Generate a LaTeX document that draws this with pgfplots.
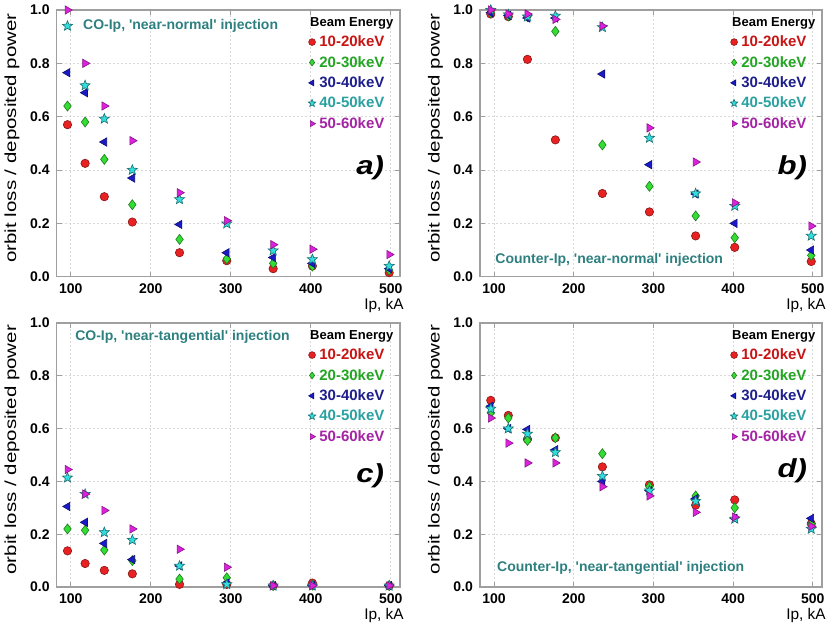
\documentclass[border=0pt]{standalone}
\usepackage{fontspec}
\setmainfont{Liberation Sans}
\usepackage{graphicx}
\usepackage{pgfplots}
\pgfplotsset{compat=1.18}

\definecolor{cred}{HTML}{E82222}
\definecolor{cgreen}{HTML}{33DD33}
\definecolor{cblue}{HTML}{1A1AC8}
\definecolor{ccyan}{HTML}{33DDDD}
\definecolor{cmag}{HTML}{DD22DD}
\definecolor{tred}{HTML}{C81414}
\definecolor{tgreen}{HTML}{22A522}
\definecolor{tblue}{HTML}{1E1E8C}
\definecolor{tcyan}{HTML}{2AA0A0}
\definecolor{tmag}{HTML}{A424A4}
\definecolor{tteal}{HTML}{2E8080}

\pgfdeclareplotmark{fstar}{%
  \pgfpathmoveto{\pgfpointpolar{90}{1.15\pgfplotmarksize}}%
  \pgfpathlineto{\pgfpointpolar{126}{0.5\pgfplotmarksize}}%
  \pgfpathlineto{\pgfpointpolar{162}{1.15\pgfplotmarksize}}%
  \pgfpathlineto{\pgfpointpolar{198}{0.5\pgfplotmarksize}}%
  \pgfpathlineto{\pgfpointpolar{234}{1.15\pgfplotmarksize}}%
  \pgfpathlineto{\pgfpointpolar{270}{0.5\pgfplotmarksize}}%
  \pgfpathlineto{\pgfpointpolar{306}{1.15\pgfplotmarksize}}%
  \pgfpathlineto{\pgfpointpolar{342}{0.5\pgfplotmarksize}}%
  \pgfpathlineto{\pgfpointpolar{18}{1.15\pgfplotmarksize}}%
  \pgfpathlineto{\pgfpointpolar{54}{0.5\pgfplotmarksize}}%
  \pgfpathclose
  \pgfusepathqfillstroke
}

\pgfplotsset{
  panel/.style={
    scale only axis, height=133.35pt,
    xmin=82.5, xmax=511.5, ymin=0, ymax=1,
    xtick={100,200,300,400,500}, ytick={0,0.2,0.4,0.6,0.8,1.0},
    /pgf/number format/assume math mode=true,
    y tick label style={/pgf/number format/.cd, fixed, fixed zerofill, precision=1, /tikz/.cd},
    tick label style={font=\bfseries\fontsize{7}{8}\selectfont, black},
    grid=major,
    major grid style={gray!30, dash pattern=on 1pt off 1pt, line width=0.4pt},
    axis line style={gray!75, line width=0.6pt},
    tick style={gray!75, line width=0.4pt},
    major tick length=2.5pt,
    clip=false,
    xlabel={Ip, kA},
    xlabel style={font=\fontsize{7.7}{8}\selectfont, at={(axis description cs:1.012,-0.08)}, anchor=north east, inner sep=0pt},
    ylabel={\scalebox{1.28}[1]{orbit loss / deposited power}},
    ylabel style={font=\fontsize{8}{9}\selectfont, at={(axis description cs:-0.13,0.52)}, anchor=center},
    legend style={draw=none, fill=none, at={(axis description cs:0.985,0.99)}, anchor=north east,
      font=\bfseries\fontsize{7.5}{8}\selectfont, inner sep=0pt, row sep=1.6pt,
      nodes={inner sep=0.6pt, text height=6pt, text depth=1.4pt}},
    legend cell align=left,
    legend image code/.code={\draw[##1, mark size=1.7pt] plot coordinates {(0pt,0pt)}; \path (2.9pt,0pt);},
  },
  sred/.style={only marks, mark=*, mark size=2.1pt, color=cred!60!black, line width=0.3pt, mark options={fill=cred}},
  sgreen/.style={only marks, mark=diamond*, mark size=2.5pt, color=cgreen!55!black, line width=0.3pt, mark options={fill=cgreen}},
  sblue/.style={only marks, mark=triangle*, mark size=2.4pt, color=cblue!60!black, line width=0.3pt, mark options={rotate=90, fill=cblue}},
  scyan/.style={only marks, mark=fstar, mark size=2.3pt, color=ccyan!50!black, line width=0.3pt, mark options={fill=ccyan}},
  smag/.style={only marks, mark=triangle*, mark size=2.4pt, color=cmag!60!black, line width=0.3pt, mark options={rotate=-90, fill=cmag}},
}

\newcommand{\plabel}[2]{\node[font=\bfseries\itshape\fontsize{13}{13}\selectfont, inner sep=0pt] at (rel axis cs:0.913,#1) {\scalebox{1.2}[1]{#2}};}
\newcommand{\ann}[3]{\node[anchor=west, font=\bfseries\fontsize{7}{8}\selectfont, text=tteal, inner sep=0pt] at (rel axis cs:#1,#2) {#3};}
\newcommand{\beamtitle}{\addlegendimage{empty legend}\addlegendentry{\hspace*{-4.6pt}\fontsize{6.5}{7}\selectfont Beam Energy}}
\newcommand{\q}{\textquotesingle}

\begin{document}
\begin{tikzpicture}
\path[use as bounding box] (0,0) rectangle (417pt,311.5pt);

% ---------- a) ----------
\begin{axis}[panel, width=171.65pt, at={(28.35pt,173.15pt)}, anchor=south west]
\beamtitle
\addplot[sred] coordinates {(96,0.57) (118,0.425) (142,0.30) (177,0.205) (236,0.09) (295,0.06) (353,0.03) (402,0.04) (498,0.015)};
\addlegendentry{\textcolor{tred}{10-20keV}}
\addplot[sgreen] coordinates {(96,0.64) (118,0.58) (142,0.44) (177,0.27) (236,0.14) (295,0.067) (353,0.05) (402,0.04) (498,0.025)};
\addlegendentry{\textcolor{tgreen}{20-30keV}}
\addplot[sblue] coordinates {(96,0.765) (118,0.69) (142,0.505) (177,0.37) (236,0.196) (295,0.09) (353,0.072) (402,0.05) (498,0.03)};
\addlegendentry{\textcolor{tblue}{30-40keV}}
\addplot[scyan] coordinates {(96,0.94) (118,0.717) (142,0.592) (177,0.40) (236,0.29) (295,0.199) (353,0.098) (402,0.065) (498,0.04)};
\addlegendentry{\textcolor{tcyan}{40-50keV}}
\addplot[smag] coordinates {(96,1.0) (118,0.80) (142,0.64) (177,0.51) (236,0.315) (295,0.21) (353,0.12) (402,0.103) (498,0.083)};
\addlegendentry{\textcolor{tmag}{50-60keV}}
\ann{0.076}{0.941}{CO-Ip, \q near-normal\q{} injection}
\plabel{0.41}{a)}
\end{axis}

% ---------- b) ----------
\begin{axis}[panel, width=171pt, at={(240pt,173.15pt)}, anchor=south west]
\beamtitle
\addplot[sred] coordinates {(96,0.985) (118,0.975) (142,0.815) (177,0.513) (236,0.312) (295,0.243) (353,0.153) (402,0.11) (498,0.057)};
\addlegendentry{\textcolor{tred}{10-20keV}}
\addplot[sgreen] coordinates {(96,0.99) (118,0.978) (142,0.975) (177,0.92) (236,0.494) (295,0.339) (353,0.228) (402,0.146) (498,0.08)};
\addlegendentry{\textcolor{tgreen}{20-30keV}}
\addplot[sblue] coordinates {(96,0.99) (118,0.98) (142,0.97) (177,0.97) (236,0.76) (295,0.42) (353,0.31) (402,0.20) (498,0.10)};
\addlegendentry{\textcolor{tblue}{30-40keV}}
\addplot[scyan] coordinates {(96,1.0) (118,0.983) (142,0.975) (177,0.978) (236,0.935) (295,0.52) (353,0.312) (402,0.265) (498,0.153)};
\addlegendentry{\textcolor{tcyan}{40-50keV}}
\addplot[smag] coordinates {(96,1.0) (118,0.985) (142,0.985) (177,0.965) (236,0.94) (295,0.558) (353,0.43) (402,0.277) (498,0.19)};
\addlegendentry{\textcolor{tmag}{50-60keV}}
\ann{0.044}{0.063}{Counter-Ip, \q near-normal\q{} injection}
\plabel{0.41}{b)}
\end{axis}

% ---------- c) ----------
\begin{axis}[panel, width=171.65pt, height=132pt, at={(28.35pt,18pt)}, anchor=south west]
\beamtitle
\addplot[sred] coordinates {(96,0.137) (118,0.089) (142,0.063) (177,0.05) (236,0.01) (295,0.01) (353,0.005) (402,0.015) (498,0.005)};
\addlegendentry{\textcolor{tred}{10-20keV}}
\addplot[sgreen] coordinates {(96,0.22) (118,0.215) (142,0.14) (177,0.10) (236,0.03) (295,0.035) (353,0.005) (402,0.007) (498,0.005)};
\addlegendentry{\textcolor{tgreen}{20-30keV}}
\addplot[sblue] coordinates {(96,0.305) (118,0.245) (142,0.165) (177,0.104) (236,0.08) (295,0.015) (353,0.005) (402,0.005) (498,0.005)};
\addlegendentry{\textcolor{tblue}{30-40keV}}
\addplot[scyan] coordinates {(96,0.414) (118,0.352) (142,0.207) (177,0.178) (236,0.08) (295,0.01) (353,0.005) (402,0.005) (498,0.005)};
\addlegendentry{\textcolor{tcyan}{40-50keV}}
\addplot[smag] coordinates {(96,0.445) (118,0.352) (142,0.29) (177,0.22) (236,0.143) (295,0.075) (353,0.005) (402,0.005) (498,0.005)};
\addlegendentry{\textcolor{tmag}{50-60keV}}
\ann{0.053}{0.946}{CO-Ip, \q near-tangential\q{} injection}
\plabel{0.42}{c)}
\end{axis}

% ---------- d) ----------
\begin{axis}[panel, width=171pt, height=132pt, at={(240pt,18pt)}, anchor=south west]
\beamtitle
\addplot[sred] coordinates {(96,0.707) (118,0.65) (142,0.56) (177,0.565) (236,0.455) (295,0.387) (353,0.31) (402,0.33) (498,0.24)};
\addlegendentry{\textcolor{tred}{10-20keV}}
\addplot[sgreen] coordinates {(96,0.66) (118,0.64) (142,0.555) (177,0.565) (236,0.505) (295,0.38) (353,0.345) (402,0.30) (498,0.24)};
\addlegendentry{\textcolor{tgreen}{20-30keV}}
\addplot[sblue] coordinates {(96,0.685) (118,0.60) (142,0.597) (177,0.52) (236,0.40) (295,0.365) (353,0.335) (402,0.26) (498,0.26)};
\addlegendentry{\textcolor{tblue}{30-40keV}}
\addplot[scyan] coordinates {(96,0.675) (118,0.60) (142,0.58) (177,0.51) (236,0.42) (295,0.365) (353,0.325) (402,0.258) (498,0.22)};
\addlegendentry{\textcolor{tcyan}{40-50keV}}
\addplot[smag] coordinates {(96,0.64) (118,0.545) (142,0.47) (177,0.47) (236,0.38) (295,0.345) (353,0.283) (402,0.265) (498,0.23)};
\addlegendentry{\textcolor{tmag}{50-60keV}}
\ann{0.049}{0.071}{Counter-Ip, \q near-tangential\q{} injection}
\plabel{0.44}{d)}
\end{axis}
\end{tikzpicture}
\end{document}
